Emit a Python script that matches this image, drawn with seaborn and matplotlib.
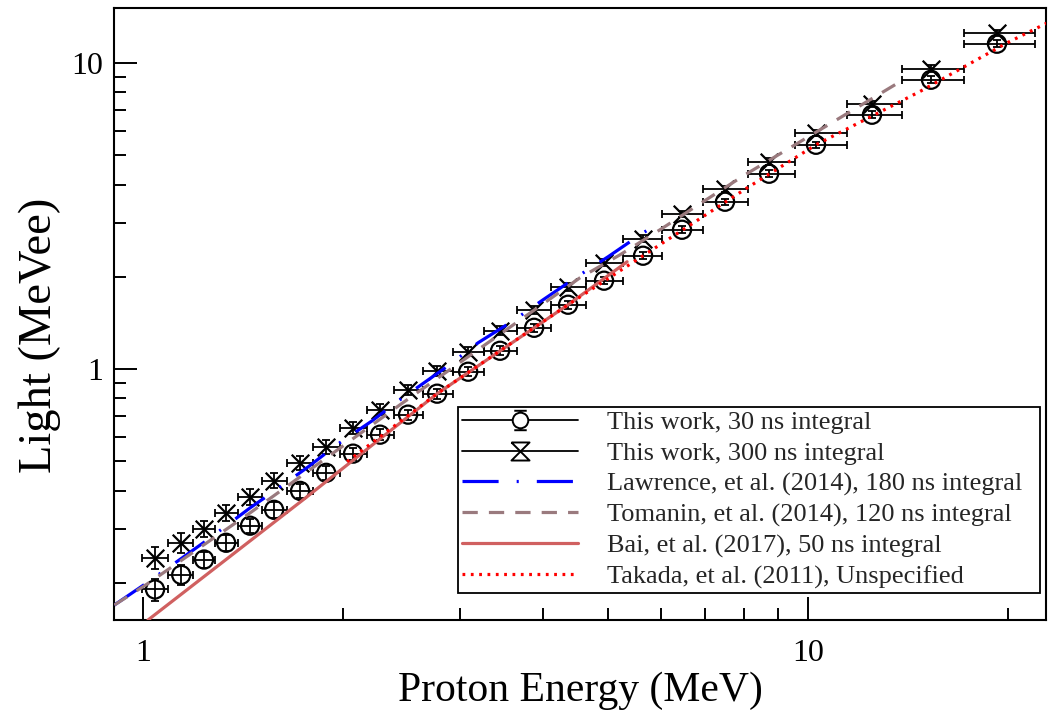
import numpy as np
import pandas as pd
import matplotlib
matplotlib.use("Agg")
import matplotlib.pyplot as plt
from matplotlib.lines import Line2D
from matplotlib.path import Path
from matplotlib.ticker import FixedLocator, FixedFormatter, LogLocator, NullFormatter
import seaborn as sns

# ---- measured light output (this work) ----
energy = [1.042, 1.141, 1.235, 1.333, 1.448, 1.574, 1.722, 1.885, 2.069, 2.272,
          2.503, 2.768, 3.082, 3.442, 3.873, 4.356, 4.934, 5.648, 6.464, 7.502,
          8.738, 10.28, 12.48, 15.31, 19.24]
bin_edges = [0.997, 1.090, 1.187, 1.283, 1.390, 1.510, 1.646, 1.801, 1.975, 2.168,
             2.385, 2.633, 2.920, 3.257, 3.651, 4.108, 4.637, 5.270, 6.033, 6.953,
             8.124, 9.561, 11.44, 13.85, 17.16, 21.95]
light_30 = [0.190, 0.212, 0.238, 0.270, 0.307, 0.346, 0.399, 0.457, 0.528, 0.609,
            0.708, 0.829, 0.978, 1.145, 1.361, 1.619, 1.940, 2.341, 2.846, 3.514,
            4.338, 5.395, 6.763, 8.800, 11.54]
err_30 = [0.016, 0.016, 0.014, 0.016, 0.017, 0.020, 0.021, 0.023, 0.024, 0.025,
          0.027, 0.031, 0.033, 0.039, 0.041, 0.049, 0.051, 0.058, 0.071, 0.087,
          0.108, 0.134, 0.168, 0.219, 0.287]
light_300 = [0.241, 0.270, 0.300, 0.338, 0.382, 0.431, 0.493, 0.556, 0.642, 0.735,
             0.854, 0.985, 1.137, 1.331, 1.559, 1.853, 2.221, 2.660, 3.210, 3.874,
             4.748, 5.905, 7.345, 9.559, 12.53]
err_300 = [0.020, 0.020, 0.018, 0.020, 0.022, 0.024, 0.026, 0.028, 0.029, 0.030,
           0.032, 0.037, 0.039, 0.045, 0.047, 0.056, 0.059, 0.066, 0.080, 0.096,
           0.118, 0.147, 0.183, 0.238, 0.311]

# ---- published light-output curves ----
lawrence_e = [0.905, 1.014, 1.145, 1.261, 1.448, 1.569, 1.771, 1.957, 2.210, 2.410,
              2.876, 3.190, 3.601, 3.996, 4.494, 5.004, 5.648, 5.930]
lawrence_l = [0.169, 0.200, 0.241, 0.280, 0.351, 0.396, 0.478, 0.565, 0.676, 0.780,
              1.023, 1.216, 1.435, 1.681, 1.999, 2.323, 2.782, 2.955]
tomanin_e = [0.905, 1.014, 1.448, 2.435, 4.541, 5.216, 5.989, 6.953, 8.040, 9.561,
             11.37, 13.75]
tomanin_l = [0.169, 0.198, 0.338, 0.763, 1.984, 2.358, 2.846, 3.514, 4.305, 5.395,
             6.763, 8.668]
bai_e = [1.017, 1.740, 2.768, 4.356, 5.344]
bai_l = [0.151, 0.373, 0.829, 1.619, 2.237]
takada_e = [2.026, 2.768, 3.442, 4.356, 5.648, 8.090, 10.28, 14.74, 19.90, 22.90]
takada_l = [0.497, 0.829, 1.145, 1.619, 2.341, 3.895, 5.395, 8.060, 11.60, 13.50]

labels = ["This work, 30 ns integral",
          "This work, 300 ns integral",
          "Lawrence, et al. (2014), 180 ns integral",
          "Tomanin, et al. (2014), 120 ns integral",
          "Bai, et al. (2017), 50 ns integral",
          "Takada, et al. (2011), Unspecified"]

sns.set_style("ticks")
plt.rcParams["font.family"] = ["Liberation Serif", "DejaVu Serif"]
plt.rcParams["lines.scale_dashes"] = False

W, H = 1049, 715
fig = plt.figure(figsize=(W / 100, H / 100), dpi=100)
ax = fig.add_axes([114 / W, 1 - 620 / H, (1046 - 114) / W, (620 - 8) / H])
ax.set_xscale("log")
ax.set_yscale("log")

# horizontal extent of each point = its energy bin
e = np.array(energy)
edges = np.array(bin_edges)
xerr = [e - edges[:-1], edges[1:] - e]

eb_kw = dict(fmt="none", ecolor="black", elinewidth=1.3, capsize=3.2, capthick=1.3, zorder=2)
ax.errorbar(energy, light_30, xerr=xerr, yerr=err_30, **eb_kw)
ax.errorbar(energy, light_300, xerr=xerr, yerr=err_300, **eb_kw)

sns.scatterplot(x=energy, y=light_30, marker="o", s=170, facecolors="none",
                edgecolors="black", linewidth=1.6, ax=ax, zorder=3)
sns.scatterplot(x=energy, y=light_300, marker="x", s=160, color="black",
                linewidth=1.6, ax=ax, zorder=3)

curve_styles = [
    (lawrence_e, lawrence_l, "#0000ff", (0, (26, 13, 1.5, 13))),
    (tomanin_e, tomanin_l, "#9a7a7e", (0, (11, 8))),
    (bai_e, bai_l, "#d06060", "-"),
    (takada_e, takada_l, "#ff0000", (0, (2.0, 4.0))),
]
curve_handles = []
for xs, ys, col, ls in curve_styles:
    sns.lineplot(x=xs, y=ys, color=col, linewidth=2.3, linestyle=ls, ax=ax,
                 sort=True, estimator=None, zorder=4)
    curve_handles.append(Line2D([], [], color=col, linewidth=2.3, linestyle=ls))

ax.set_xlim(0.904, 22.8)
ax.set_ylim(0.151, 15.1)

for axis in (ax.xaxis, ax.yaxis):
    axis.set_major_locator(FixedLocator([1, 10]))
    axis.set_major_formatter(FixedFormatter(["1", "10"]))
    axis.set_minor_locator(LogLocator(base=10, subs=np.arange(2, 10)))
    axis.set_minor_formatter(NullFormatter())
ax.tick_params(which="both", direction="in", top=False, right=False, width=1.4,
               labelsize=23, pad=8, color="black", labelcolor="black")
ax.tick_params(axis="x", which="both", pad=14)
ax.tick_params(which="major", length=16.5)
ax.tick_params(which="minor", length=8.6)
for sp in ax.spines.values():
    sp.set_linewidth(1.5)
    sp.set_color("black")
    sp.set_visible(True)

ax.set_xlabel("Proton Energy (MeV)", fontsize=30, labelpad=2, color="black")
ax.set_ylabel("Light (MeVee)", fontsize=33.5, color="black")
ax.yaxis.set_label_coords(-0.057, 0.465)

# legend symbols: marker drawn together with its vertical error caps
circle_caps = Path.make_compound_path(
    Path.unit_circle(),
    Path([(-0.8, 1.25), (0.8, 1.25)], [Path.MOVETO, Path.LINETO]),
    Path([(-0.8, -1.25), (0.8, -1.25)], [Path.MOVETO, Path.LINETO]))
hourglass = Path([(-1, 1), (1, 1), (-1, -1), (1, -1), (-1, 1)],
                 [Path.MOVETO, Path.LINETO, Path.LINETO, Path.LINETO, Path.LINETO])
h30 = Line2D([], [], color="black", linewidth=1.3, marker=circle_caps, markersize=14,
             markerfacecolor="white", markeredgecolor="black", markeredgewidth=1.4)
h300 = Line2D([], [], color="black", linewidth=1.3, marker=hourglass, markersize=13,
              markerfacecolor="white", markeredgecolor="black", markeredgewidth=1.4)
handles = [h30, h300] + curve_handles
leg_box = (458 / W, 1 - 593 / H, (1040 - 458) / W, (593 - 407) / H)
leg = fig.legend(handles, labels, loc="upper left", mode="expand",
                 bbox_to_anchor=leg_box, frameon=True, fancybox=False,
                 fontsize=19, handlelength=4.4, handletextpad=1.1,
                 labelspacing=0.27, borderpad=0.15, borderaxespad=0)
leg.get_frame().set_edgecolor("black")
leg.get_frame().set_linewidth(1.3)
leg.get_frame().set_alpha(1)

fig.savefig("out.png", dpi=100, facecolor="white")
